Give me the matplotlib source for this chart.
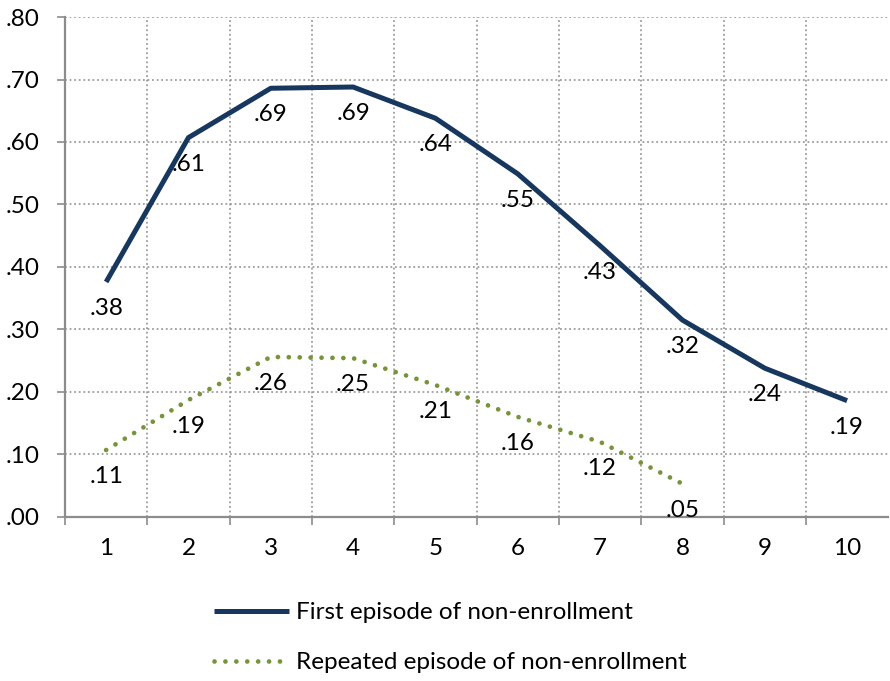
import matplotlib.pyplot as plt
from matplotlib.ticker import FixedLocator

# Share of students by year
years = [1, 2, 3, 4, 5, 6, 7, 8, 9, 10]
first_episode = [0.376, 0.607, 0.686, 0.688, 0.638, 0.549, 0.434, 0.315, 0.238, 0.186]
repeat_years = [1, 2, 3, 4, 5, 6, 7, 8]
repeat_episode = [0.107, 0.187, 0.256, 0.254, 0.211, 0.160, 0.120, 0.053]
series_names = ["First episode of non-enrollment", "Repeated episode of non-enrollment"]

BLUE = "#17375E"
GREEN = "#77933C"
GRID = "#8C8C8C"
FS = 17.5

plt.rcParams['font.family'] = ['Lato', 'DejaVu Sans']
plt.rcParams['font.size'] = FS


def fmt(v):
    # .38 style, no leading zero
    return f"{v:.2f}".lstrip("0")


fig = plt.figure(figsize=(8.9, 6.81), dpi=100)
ax = fig.add_axes([0.073, 0.241, 0.925, 0.734])

ax.plot(years, first_episode, color=BLUE, lw=3.6, solid_capstyle='butt',
        label=series_names[0], zorder=3)
ax.plot(repeat_years, repeat_episode, color=GREEN, lw=3.4,
        linestyle=(0, (0.01, 2.3)), dash_capstyle='round',
        label=series_names[1], zorder=3)

for x, y in zip(years, first_episode):
    ax.annotate(fmt(y), (x, y), xytext=(0, -19), textcoords='offset points',
                ha='center', va='center', fontsize=FS, color='black')
for x, y in zip(repeat_years, repeat_episode):
    ax.annotate(fmt(y), (x, y), xytext=(0, -19), textcoords='offset points',
                ha='center', va='center', fontsize=FS, color='black')

ax.set_xlim(0.5, 10.5)
ax.set_ylim(0, 0.8)

ax.set_xticks(years)
ax.set_xticklabels([str(y) for y in years])
ax.xaxis.set_minor_locator(FixedLocator([y + 0.5 for y in range(0, 10)]))
ax.tick_params(axis='x', which='major', length=0, pad=15, labelsize=FS)
ax.tick_params(axis='x', which='minor', length=6, width=1.2, color=GRID)

yt = [i / 10 for i in range(9)]
ax.set_yticks(yt)
ax.set_yticklabels([fmt(v) for v in yt])
ax.tick_params(axis='y', length=6, width=1.2, color=GRID, pad=12, labelsize=FS)

ax.grid(False)
ax.yaxis.grid(True, which='major', linestyle=(0, (1.2, 1.8)), color=GRID, lw=1.1)
ax.xaxis.grid(True, which='minor', linestyle=(0, (1.2, 1.8)), color=GRID, lw=1.1)

for side in ['top', 'right']:
    ax.spines[side].set_visible(False)
for side in ['left', 'bottom']:
    ax.spines[side].set_color(GRID)
    ax.spines[side].set_linewidth(1.6)

fig.legend(loc='upper left', bbox_to_anchor=(0.216, 0.148), frameon=False,
           handlelength=3.1, handletextpad=0.25, labelspacing=1.2, fontsize=FS)

fig.savefig("out.png", dpi=100)
